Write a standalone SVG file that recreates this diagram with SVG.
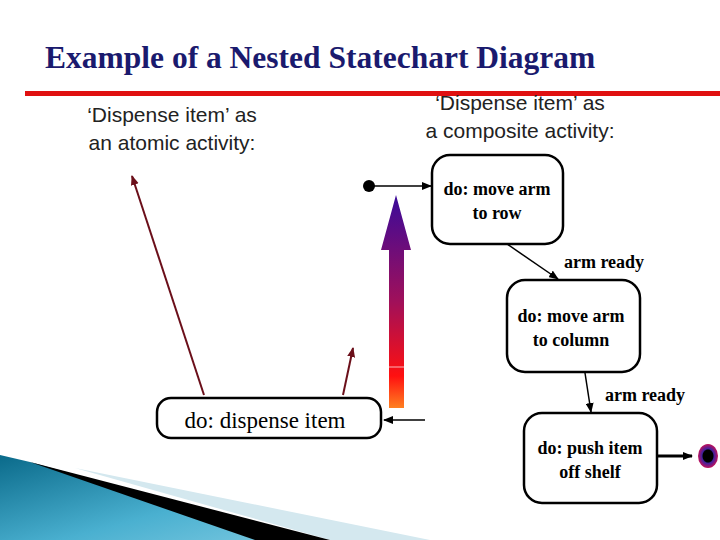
<svg xmlns="http://www.w3.org/2000/svg" width="720" height="540" viewBox="0 0 720 540">
<defs>
<style>
.st{fill:#fff;stroke:#000;stroke-width:2.5}
.lbl{font-family:"Liberation Serif",serif;font-weight:bold;font-size:18px;text-anchor:middle}
.hd{font-family:"Liberation Sans",sans-serif;font-size:21px;fill:#222;text-anchor:middle}
.cn{stroke:#000;stroke-width:1.5;fill:none}
</style>
<marker id="ah" markerWidth="10" markerHeight="8" refX="9" refY="4" orient="auto" markerUnits="userSpaceOnUse"><path d="M0,0 L10,4 L0,8Z" fill="#000"/></marker>
<marker id="ahr" markerWidth="10" markerHeight="10" refX="9" refY="5" orient="auto" markerUnits="userSpaceOnUse"><path d="M0,1 L10,5 L0,9Z" fill="#6b0f1a"/></marker>
<linearGradient id="bg" x1="0" y1="0" x2="0" y2="1"><stop offset="0" stop-color="#3a0a9a"/><stop offset="0.5" stop-color="#a0105a"/><stop offset="0.85" stop-color="#ff1010"/><stop offset="1" stop-color="#ff8020"/></linearGradient>
<linearGradient id="bl" x1="0" y1="0" x2="1" y2="1"><stop offset="0" stop-color="#0a6a8a"/><stop offset="0.6" stop-color="#4ab0d0"/><stop offset="1" stop-color="#7ac8e0"/></linearGradient>
<radialGradient id="fg"><stop offset="0.5" stop-color="#000"/><stop offset="0.6" stop-color="#4020a0"/><stop offset="1" stop-color="#c0105a"/></radialGradient>
</defs>
<rect width="720" height="540" fill="#fff"/>
<polygon points="75,468 430,540 330,540" fill="#d4e8ef"/>
<polygon points="0,455 30,462 310,540 0,540" fill="url(#bl)"/>
<polygon points="30,462 330,540 255,540" fill="#000"/>
<text x="45" y="68" font-family="Liberation Serif,serif" font-weight="bold" font-size="31.5" fill="#1a1a6e">Example of a Nested Statechart Diagram</text>
<rect x="25" y="91" width="695" height="5" fill="#e01010"/>
<text class="hd" x="172" y="122">‘Dispense item’ as</text>
<text class="hd" x="172" y="150">an atomic activity:</text>
<text class="hd" x="520" y="110">‘Dispense item’ as</text>
<text class="hd" x="520" y="138">a composite activity:</text>
<g id="bigarrow"><polygon points="396,195 411,250 404,250 404,408 389,408 389,250 381,250" fill="url(#bg)"/><line x1="389" y1="367" x2="404" y2="367" stroke="#fff" stroke-width="0.7"/></g>
<g id="connectors">
<line class="cn" x1="369" y1="186" x2="431" y2="186" marker-end="url(#ah)"/>
<line class="cn" x1="507" y1="244" x2="558" y2="279" marker-end="url(#ah)"/>
<line class="cn" x1="585" y1="373" x2="591" y2="412" marker-end="url(#ah)"/>
<line stroke="#000" stroke-width="3" x1="657" y1="456" x2="692" y2="456" marker-end="url(#ah)"/>
<line class="cn" x1="425" y1="420" x2="384" y2="420" marker-end="url(#ah)"/>
<line stroke="#6b0f1a" stroke-width="2" x1="204" y1="395" x2="132" y2="176" marker-end="url(#ahr)"/>
<line stroke="#6b0f1a" stroke-width="2" x1="343" y1="395" x2="353" y2="348" marker-end="url(#ahr)"/>
<text class="lbl" x="604" y="268">arm ready</text>
<text class="lbl" x="645" y="401">arm ready</text>
</g>
<g id="init"><circle cx="369" cy="186" r="6"/></g>
<g id="n1"><rect class="st" x="432" y="155" width="131" height="89" rx="18"/><text class="lbl" x="497" y="195">do: move arm</text><text class="lbl" x="497" y="219">to row</text></g>
<g id="n2"><rect class="st" x="507" y="280" width="133" height="92" rx="18"/><text class="lbl" x="571" y="322">do: move arm</text><text class="lbl" x="571" y="346">to column</text></g>
<g id="n3"><rect class="st" x="524" y="413" width="133" height="90" rx="18"/><text class="lbl" x="590" y="454">do: push item</text><text class="lbl" x="590" y="478">off shelf</text></g>
<g id="final"><ellipse cx="708" cy="456" rx="10" ry="12" fill="url(#fg)"/></g>
<g id="dispense"><rect class="st" x="157" y="398" width="224" height="40" rx="14"/><text x="265" y="428" font-family="Liberation Serif,serif" font-size="23" text-anchor="middle">do: dispense item</text></g>
</svg>
